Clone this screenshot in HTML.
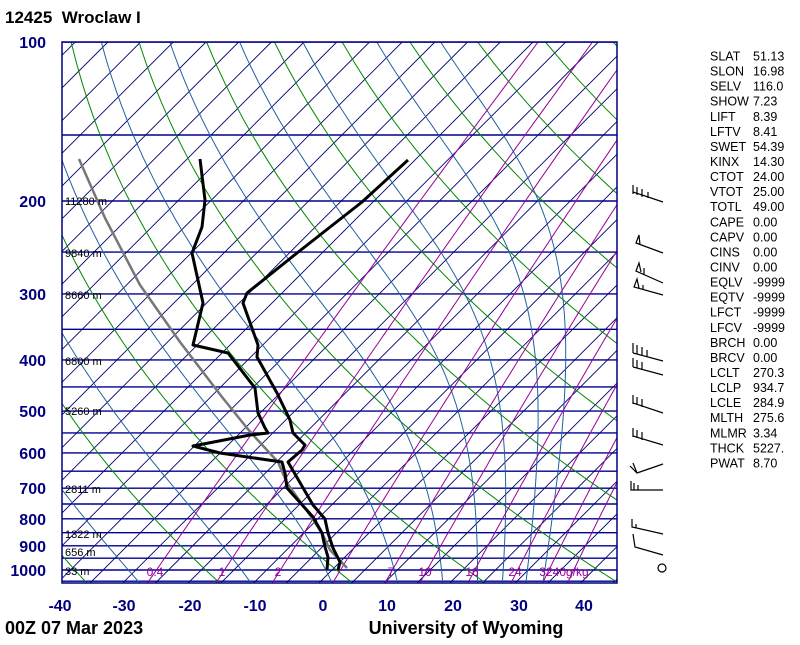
<!DOCTYPE html>
<html><head><meta charset="utf-8">
<style>
html,body{margin:0;padding:0;background:#fff;}
body{width:800px;height:640px;overflow:hidden;}
svg text{font-family:"Liberation Sans",Arial,sans-serif;}
</style></head>
<body>
<svg id="s" width="800" height="640" viewBox="0 0 800 640" xmlns="http://www.w3.org/2000/svg">
<defs><clipPath id="c"><rect x="62" y="42" width="555" height="541"/></clipPath></defs>
<g id="grid" clip-path="url(#c)"></g>
<g id="prof" clip-path="url(#c)"></g>
<rect x="62" y="42" width="555" height="541" fill="none" stroke="#000080" stroke-width="1.5"/>
<text x="5" y="23" font-size="17" font-weight="bold">12425&#160;&#160;Wroclaw I</text>
<g font-size="16" font-weight="bold" fill="#000080" text-anchor="end">
<text x="46" y="48">100</text><text x="46" y="207">200</text><text x="46" y="300">300</text>
<text x="46" y="366">400</text><text x="46" y="417">500</text><text x="46" y="459">600</text>
<text x="46" y="494">700</text><text x="46" y="525">800</text><text x="46" y="552">900</text>
<text x="46" y="576">1000</text>
</g>
<g font-size="16" font-weight="bold" fill="#000080" text-anchor="middle">
<text x="60" y="611">-40</text><text x="124" y="611">-30</text><text x="190" y="611">-20</text>
<text x="255" y="611">-10</text><text x="323" y="611">0</text><text x="387" y="611">10</text>
<text x="453" y="611">20</text><text x="519" y="611">30</text><text x="584" y="611">40</text>
</g>
<text x="5" y="634" font-size="18" font-weight="bold">00Z 07 Mar 2023</text>
<text x="466" y="634" font-size="18" font-weight="bold" text-anchor="middle">University of Wyoming</text>
<g font-size="11" fill="#000">
<text x="65" y="205">11280 m</text><text x="65" y="257">9840 m</text><text x="65" y="299">8660 m</text>
<text x="65" y="365">6800 m</text><text x="65" y="415">5260 m</text><text x="65" y="493">2811 m</text>
<text x="65" y="538">1322 m</text><text x="65" y="556">656 m</text><text x="65" y="575">33 m</text>
</g>
<g font-size="12" fill="#990099" text-anchor="middle">
<text x="155" y="576">0.4</text><text x="222" y="576">1</text><text x="278" y="576">2</text>
<text x="391" y="576">7</text><text x="425" y="576">10</text><text x="472" y="576">16</text>
<text x="515" y="576">24</text><text x="564" y="576">3240g/kg</text>
</g>
<g id="stats" font-size="12.5" fill="#000"></g>
<g stroke="#000" stroke-width="1.2" fill="none">
<path d="M663,202 L633,192 M633,185 L633,194 M637,187 L637,195 M642,189 L642,197 M648,192 L648,198"/>
<path d="M663,253 L636,243 L639,235 L640,245"/>
<path d="M663,283 L636,271 L639,263 L641,272 M644,268 L644,275"/>
<path d="M663,295 L634,287 L637,279 L639,288 M643,285 L643,290"/>
<path d="M663,361 L633,353 M633,343 L633,353 M637,345 L637,354 M642,347 L642,356 M647,350 L647,357"/>
<path d="M663,375 L633,367 M633,358 L633,367 M637,360 L637,368 M642,362 L642,370"/>
<path d="M663,413 L633,403 M633,395 L633,404 M637,397 L637,405 M642,399 L642,407"/>
<path d="M663,445 L633,436 M633,428 L633,437 M637,430 L637,438 M642,432 L642,440"/>
<path d="M663,464 L637,473 L630,466 M637,473 L633,463"/>
<path d="M663,490 L631,490 L631,481 M634,490 L634,483 M638,490 L638,485"/>
<path d="M663,534 L632,527 L632,519 M636,528 L636,524"/>
<path d="M663,555 L635,547 L633,534"/>
<circle cx="662" cy="568" r="4"/>
</g>
</svg>
<script>
(function(){
var NS="http://www.w3.org/2000/svg";
var grid=document.getElementById("grid"),prof=document.getElementById("prof");
function yP(p){return 570-229.3*Math.log(1000/p);}
function xT(T,p){return 323.5+6.54*T+(583-yP(p));}
function path(g,d,col,w){var e=document.createElementNS(NS,"path");e.setAttribute("d",d);e.setAttribute("stroke",col);e.setAttribute("stroke-width",w);e.setAttribute("fill","none");e.setAttribute("stroke-linejoin","round");g.appendChild(e);}
var d="";
for(var p=100;p<=1050;p+=50){var y=yP(p).toFixed(1);d+="M62,"+y+" L617,"+y+" ";}
path(grid,d,"#000090",1.4);
d="";
for(var k=-20;k<=20;k++){var c=24.7+k*32.7;d+="M"+c.toFixed(1)+",583 L"+(c+541).toFixed(1)+",42 ";}
path(grid,d,"#000070",0.9);
d="";
for(var th=-40;th<=240;th+=20){var s="";for(var p=1060;p>=100;p-=10){var T=(th+273.15)*Math.pow(p/1000,0.2857)-273.15;s+=(s?"L":"M")+xT(T,p).toFixed(1)+","+yP(p).toFixed(1)+" ";}d+=s;}
path(grid,d,"#008800",1);
function es(Tc){return 6.112*Math.exp(17.67*Tc/(Tc+243.5));}
d="";
var starts=[-28,-11,1.4,11.4,18.3,23.6,27.4,31,33.6];
starts.forEach(function(t0){var T=t0+273.15,s="";for(var p=1060;p>=100;p-=2){var Tc=T-273.15;s+=(s?"L":"M")+xT(Tc,p).toFixed(1)+","+yP(p).toFixed(1)+" ";var e=es(Tc);var rs=0.622*e/(p-e);var dTdp=(287*T+2.5e6*rs)/(p*(1005+2.5e6*2.5e6*rs*0.622/(287*T*T)));T-=dTdp*2;}d+=s;});
path(grid,d,"#2060a0",1);
d="";
[0.4,1,2,4,7,10,16,24,32,40].forEach(function(w){var s="";for(var p=1060;p>=100;p-=10){var e=w*p/(622+w);var L=Math.log(e/6.112);var Td=243.5*L/(17.67-L);s+=(s?"L":"M")+xT(Td,p).toFixed(1)+","+yP(p).toFixed(1)+" ";}d+=s;});
path(grid,d,"#990099",1);
function pl(pts){return "M"+pts.map(function(a){return a[0]+","+a[1];}).join(" L");}
path(prof,pl([[79,159],[105,218],[140,285],[180,342],[222,397],[247,428],[253,435],[278,462],[287,483],[312,518],[323,535],[330,550],[347,568]]),"#777",2.5);
path(prof,pl([[408,160],[362,202],[297,253],[247,293],[243,303],[258,345],[257,357],[277,393],[290,420],[293,433],[305,445],[302,450],[288,462],[313,505],[325,519],[328,533],[333,548],[340,562],[338,570]]),"#000",3);
path(prof,pl([[200,159],[205,200],[202,227],[192,253],[203,303],[193,345],[228,353],[255,388],[258,413],[265,428],[268,433],[250,435],[193,446],[220,453],[282,462],[285,473],[287,488],[313,517],[322,533],[325,547],[328,557],[327,570]]),"#000",3);
var st=[["SLAT","51.13"],["SLON","16.98"],["SELV","116.0"],["SHOW","7.23"],["LIFT","8.39"],["LFTV","8.41"],["SWET","54.39"],["KINX","14.30"],["CTOT","24.00"],["VTOT","25.00"],["TOTL","49.00"],["CAPE","0.00"],["CAPV","0.00"],["CINS","0.00"],["CINV","0.00"],["EQLV","-9999"],["EQTV","-9999"],["LFCT","-9999"],["LFCV","-9999"],["BRCH","0.00"],["BRCV","0.00"],["LCLT","270.3"],["LCLP","934.7"],["LCLE","284.9"],["MLTH","275.6"],["MLMR","3.34"],["THCK","5227."],["PWAT","8.70"]];
var g=document.getElementById("stats");
st.forEach(function(r,i){var y=(60.5+i*15.07).toFixed(1);[[710,r[0]],[753,r[1]]].forEach(function(a){var t=document.createElementNS(NS,"text");t.setAttribute("x",a[0]);t.setAttribute("y",y);t.textContent=a[1];g.appendChild(t);});});
})();
</script>
</body></html>
